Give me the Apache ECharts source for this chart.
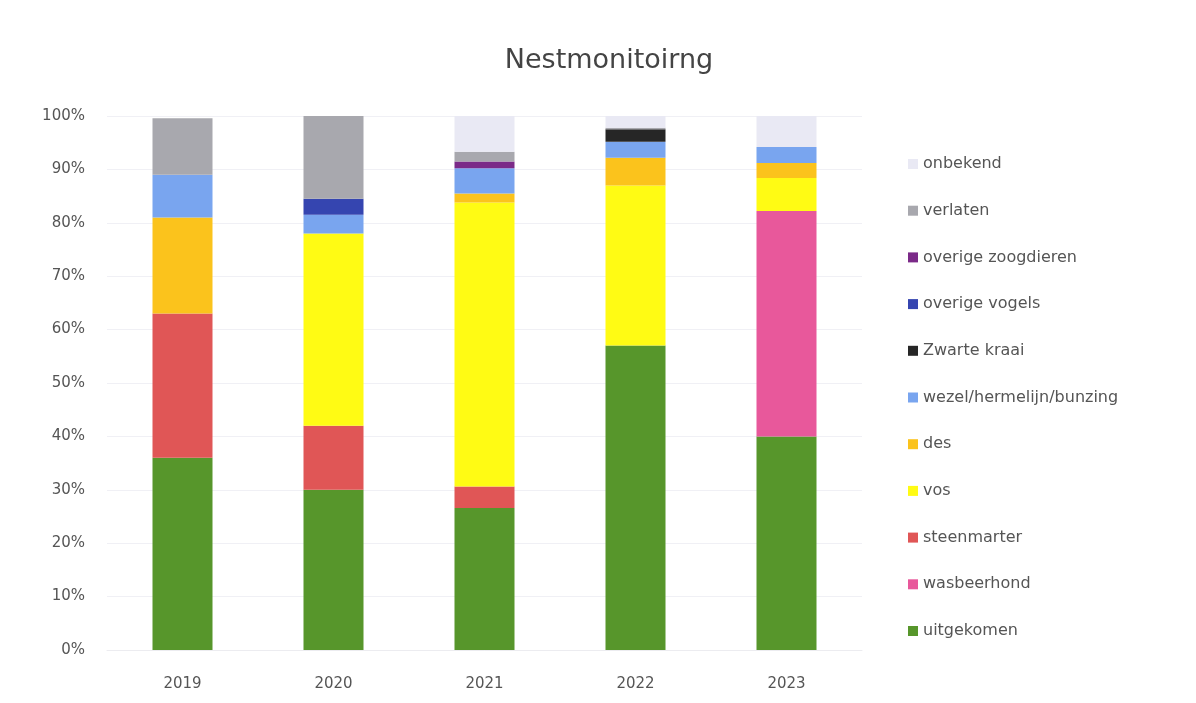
<!DOCTYPE html>
<html><head><meta charset="utf-8">
<script src="https://cdn.jsdelivr.net/npm/echarts@6/dist/echarts.min.js"></script>
<style>html,body{margin:0;padding:0;background:#fff}#c{width:1196px;height:703px}</style>
</head><body><div id="c"></div>
<script>
const years = ['2019','2020','2021','2022','2023'];
// stacked from bottom to top
const uitgekomen   = [36, 30, 26.6, 57, 40];
const wasbeerhond  = [0, 0, 0, 0, 42.2];
const steenmarter  = [27, 12, 4, 0, 0];
const vos          = [0, 36, 53.2, 30, 6.2];
const des          = [18, 0, 1.7, 5.2, 2.8];
const wezel        = [8, 3.5, 4.7, 3, 3];
const zwarteKraai  = [0, 0, 0, 2.3, 0];
const overigeVogels= [0, 3, 0, 0, 0];
const overigeZoog  = [0, 0, 1.3, 0, 0];
const verlaten     = [10.6, 15.5, 1.8, 0.3, 0];
const onbekend     = [0, 0, 6.7, 2.2, 5.8];
const yTicks = [0,10,20,30,40,50,60,70,80,90,100];

const seriesDefs = [
  ['uitgekomen', uitgekomen, '#57962b'],
  ['wasbeerhond', wasbeerhond, '#e8589b'],
  ['steenmarter', steenmarter, '#e05656'],
  ['vos', vos, '#fffb14'],
  ['des', des, '#fbc31c'],
  ['wezel/hermelijn/bunzing', wezel, '#79a5ef'],
  ['Zwarte kraai', zwarteKraai, '#262626'],
  ['overige vogels', overigeVogels, '#3545b0'],
  ['overige zoogdieren', overigeZoog, '#7b2a88'],
  ['verlaten', verlaten, '#a8a8ae'],
  ['onbekend', onbekend, '#e9e9f4']
];

const FONT = 'DejaVu Sans';
const chart = echarts.init(document.getElementById('c'));
chart.setOption({
  animation: false,
  backgroundColor: '#fff',
  title: {
    text: 'Nestmonitoirng', left: 604, top: 42, textAlign: 'center',
    textStyle: {fontFamily: FONT, fontSize: 27, fontWeight: 'normal', color: '#444'}
  },
  grid: {left: 107, right: 334, top: 116, bottom: 53},
  legend: {
    orient: 'vertical', left: 903, top: 151,
    data: seriesDefs.map(s => s[0]).reverse(),
    itemWidth: 10, itemHeight: 10, itemGap: 30.7,
    icon: 'rect',
    textStyle: {fontFamily: FONT, fontSize: 16, color: '#555'}
  },
  xAxis: {
    type: 'category', data: years,
    axisLine: {show: true, lineStyle: {color: '#ececf0'}},
    axisTick: {show: false},
    axisLabel: {fontFamily: FONT, fontSize: 15, color: '#555', margin: 27}
  },
  yAxis: {
    type: 'value', min: 0, max: 100, interval: 10,
    axisLabel: {
      fontFamily: FONT, fontSize: 15, color: '#555', margin: 22,
      formatter: v => yTicks.includes(v) ? v + '%' : ''
    },
    axisLine: {show: false}, axisTick: {show: false},
    splitLine: {lineStyle: {color: '#f0f0f5'}}
  },
  series: seriesDefs.map(([name, data, color]) => ({
    name, type: 'bar', stack: 'total', data, barWidth: 60,
    itemStyle: {color}
  }))
});
</script></body></html>
